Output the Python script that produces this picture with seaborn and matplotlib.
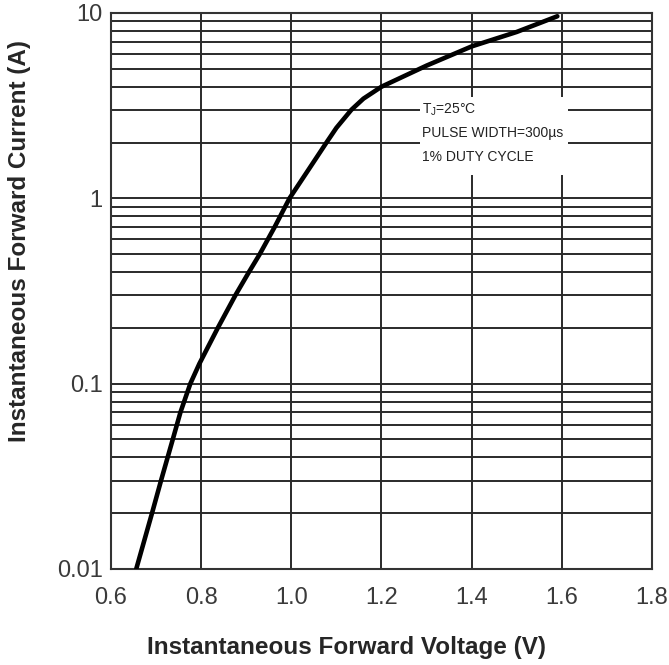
import numpy as np
import pandas as pd
import matplotlib
matplotlib.use("Agg")
import matplotlib.pyplot as plt
import matplotlib.ticker as mticker
from matplotlib.patches import Rectangle
import seaborn as sns

# forward voltage (V) vs instantaneous forward current (A)
voltage = [0.656, 0.691, 0.711, 0.737, 0.754, 0.776, 0.796, 0.837, 0.876, 0.906,
           0.930, 0.963, 0.996, 1.040, 1.078, 1.100, 1.133, 1.160, 1.200, 1.300,
           1.400, 1.500, 1.590]
current = [0.01, 0.02, 0.03, 0.05, 0.07, 0.10, 0.128, 0.20, 0.30, 0.40,
           0.50, 0.70, 1.00, 1.45, 2.00, 2.40, 3.00, 3.45, 4.00, 5.20,
           6.60, 7.90, 9.60]

x_ticks = [0.6, 0.8, 1.0, 1.2, 1.4, 1.6, 1.8]
x_tick_labels = ["0.6", "0.8", "1.0", "1.2", "1.4", "1.6", "1.8"]
y_ticks = [0.01, 0.1, 1, 10]
y_tick_labels = ["0.01", "0.1", "1", "10"]
note_lines = ["T$_\\mathregular{J}$=25°C", "PULSE WIDTH=300µs", "1% DUTY CYCLE"]

sns.set_style("white")
plt.rcParams["font.family"] = ["Liberation Sans", "DejaVu Sans"]
plt.rcParams["mathtext.fontset"] = "custom"
plt.rcParams["mathtext.rm"] = "Liberation Sans"

df = pd.DataFrame({"V": voltage, "I": current})

fig = plt.figure(figsize=(6.69, 6.65), dpi=100)
ax = fig.add_axes([0.1659, 0.1444, 0.8087, 0.8361])

sns.lineplot(data=df, x="V", y="I", ax=ax, color="black", linewidth=3.3,
             zorder=5, sort=False)

ax.set_yscale("log")
ax.set_xlim(0.6, 1.8)
ax.set_ylim(0.01, 10)

ax.set_xticks(x_ticks)
ax.set_xticklabels(x_tick_labels)
ax.set_yticks(y_ticks)
ax.set_yticklabels(y_tick_labels)
ax.yaxis.set_minor_locator(mticker.LogLocator(base=10, subs=np.arange(2, 10)))
ax.yaxis.set_minor_formatter(mticker.NullFormatter())

ax.grid(which="major", axis="both", color="#2a2a2a", linewidth=1.4)
ax.grid(which="minor", axis="y", color="#2a2a2a", linewidth=1.4)
ax.tick_params(which="both", length=0, labelsize=17, colors="#3a3a3a")
ax.tick_params(axis="x", pad=13)
ax.tick_params(axis="y", pad=6)

for s in ax.spines.values():
    s.set_color("#333333")
    s.set_linewidth(1.5)

ax.set_xlabel("Instantaneous Forward Voltage (V)", fontsize=17.5,
              fontweight="bold", va="center")
ax.set_ylabel("Instantaneous Forward Current (A)", fontsize=17.5,
              fontweight="bold", va="center")
ax.xaxis.set_label_coords(0.436, -0.142)
ax.yaxis.set_label_coords(-0.170, 0.59)

# white note box that breaks the grid
ax.add_patch(Rectangle((0.571, 0.709), 0.274, 0.140, transform=ax.transAxes,
                       facecolor="white", edgecolor="none", zorder=3))
for txt, yy in zip(note_lines, [0.8255, 0.784, 0.741]):
    ax.text(0.575, yy, txt, transform=ax.transAxes, fontsize=10,
            color="#222222", va="center", ha="left", zorder=4)

fig.savefig("out.png", dpi=100)
